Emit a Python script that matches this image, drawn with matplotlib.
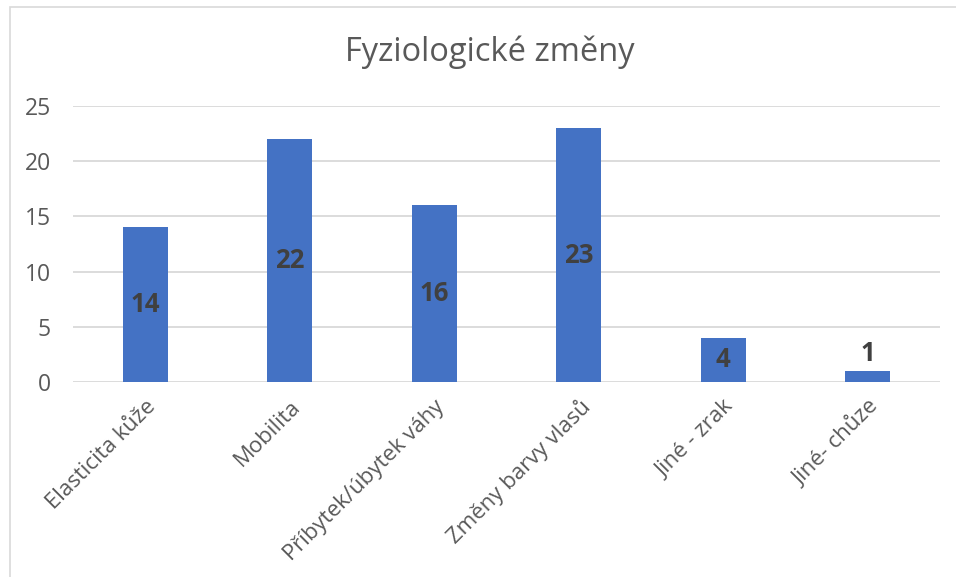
import matplotlib.pyplot as plt
from matplotlib.patches import Rectangle

categories = ["Elasticita kůže", "Mobilita", "Příbytek/úbytek váhy",
              "Změny barvy vlasů", "Jiné - zrak", "Jiné- chůze"]
values = [14, 22, 16, 23, 4, 1]
yticks = [0, 5, 10, 15, 20, 25]

plt.rcParams['font.family'] = ['Open Sans', 'DejaVu Sans']

fig = plt.figure(figsize=(9.56, 5.77), dpi=100)
# chart border like the Excel chart frame
fig.patches.append(Rectangle((10 / 956, -0.1), 1.2, (577 - 7) / 577 + 0.1,
                             transform=fig.transFigure, fill=False,
                             edgecolor="#d9d9d9", linewidth=1.2))

ax = fig.add_axes([73 / 956, 1 - 382 / 577, (940 - 73) / 956, (382 - 106) / 577])
x = range(len(categories))
bars = ax.bar(x, values, width=0.31, color="#4472c4", zorder=3)

ax.set_xlim(-0.5, len(categories) - 0.5)
ax.set_ylim(0, 25)
ax.set_yticks(yticks)
ax.grid(axis="y", color="#d9d9d9", linewidth=1.3, zorder=0)
for s in ax.spines.values():
    s.set_visible(False)
ax.tick_params(axis="x", length=0, labelsize=16, labelcolor="#595959", pad=10)
ax.tick_params(axis="y", length=0, labelsize=16.5, labelcolor="#595959", pad=16)
ax.set_xticks(list(x))
ax.set_xticklabels(categories, rotation=45, ha="right", rotation_mode="anchor")

for b, v in zip(bars, values):
    cx = b.get_x() + b.get_width() / 2
    if v >= 2:
        ax.text(cx, v / 2, str(v), ha="center", va="center", fontsize=18.5,
                fontweight="bold", color="#404040", zorder=4)
    else:
        ax.text(cx, v + 0.4, str(v), ha="center", va="bottom", fontsize=18.5,
                fontweight="bold", color="#404040", zorder=4)

fig.text(490 / 956, 1 - 52 / 577, "Fyziologické změny", ha="center", va="center",
         fontsize=23.5, color="#595959")

fig.savefig("out.png", dpi=100)
